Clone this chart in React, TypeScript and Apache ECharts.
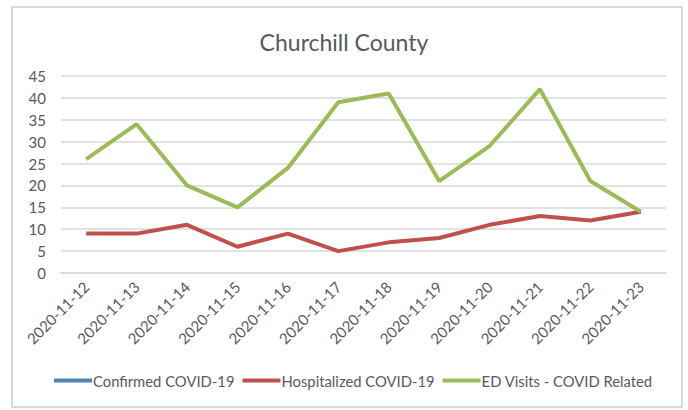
import React, { useEffect, useRef } from "react";
import * as echarts from "echarts";

const categories = [
  "2020-11-12", "2020-11-13", "2020-11-14", "2020-11-15", "2020-11-16", "2020-11-17",
  "2020-11-18", "2020-11-19", "2020-11-20", "2020-11-21", "2020-11-22", "2020-11-23",
];
const confirmed: (number | null)[] = [null, null, null, null, null, null, null, null, null, null, null, null];
const hospitalized = [9, 9, 11, 6, 9, 5, 7, 8, 11, 13, 12, 14];
const edVisits = [26, 34, 20, 15, 24, 39, 41, 21, 29, 42, 21, 14];

const FONT = "Lato";
const TXT = "#595959";

export default function App() {
  const ref = useRef<HTMLDivElement>(null);
  useEffect(() => {
    if (!ref.current) return;
    const chart = echarts.init(ref.current, undefined, { renderer: "svg" });
    chart.setOption({
      animation: false,
      backgroundColor: "#ffffff",
      title: {
        text: "Churchill County",
        left: "center",
        top: 25,
        textStyle: { fontFamily: FONT, fontSize: 23, fontWeight: "normal", color: TXT },
      },
      graphic: [
        {
          type: "rect",
          shape: { x: 12, y: 7, width: 670, height: 400 },
          style: { fill: "none", stroke: "#d9d9d9", lineWidth: 2 },
          silent: true,
        },
      ],
      legend: {
        bottom: 17,
        left: 49,
        icon: "rect",
        itemWidth: 38,
        itemHeight: 4,
        itemGap: 8,
        textStyle: { fontFamily: FONT, fontSize: 14.8, color: TXT, padding: [0, 0, 0, -4] },
        data: ["Confirmed COVID-19", "Hospitalized COVID-19", "ED Visits - COVID Related"],
      },
      grid: { left: 61, right: 22, top: 76, bottom: 137, containLabel: false },
      xAxis: {
        type: "category",
        data: categories,
        boundaryGap: true,
        axisLine: { show: true, lineStyle: { color: "#d9d9d9", width: 1.5 } },
        axisTick: { show: false },
        axisLabel: {
          rotate: 45,
          margin: 11,
          fontFamily: FONT,
          fontSize: 15,
          color: TXT,
          interval: 0,
        },
      },
      yAxis: {
        type: "value",
        min: 0,
        max: 45,
        interval: 5,
        axisLine: { show: false },
        axisTick: { show: false },
        axisLabel: { margin: 15, fontFamily: FONT, fontSize: 15, color: TXT },
        splitLine: { lineStyle: { color: "#d9d9d9", width: 1.5 } },
      },
      series: [
        {
          name: "Confirmed COVID-19",
          type: "line",
          data: confirmed,
          symbol: "none",
          lineStyle: { color: "#4F81BD", width: 4 },
          itemStyle: { color: "#4F81BD" },
        },
        {
          name: "Hospitalized COVID-19",
          type: "line",
          data: hospitalized,
          symbol: "none",
          lineStyle: { color: "#C0504D", width: 4 },
          itemStyle: { color: "#C0504D" },
        },
        {
          name: "ED Visits - COVID Related",
          type: "line",
          data: edVisits,
          symbol: "none",
          lineStyle: { color: "#9BBB59", width: 4 },
          itemStyle: { color: "#9BBB59" },
        },
      ],
    });
    return () => chart.dispose();
  }, []);
  return <div ref={ref} style={{ width: 688, height: 410, position: "absolute", left: 0, top: 0 }} />;
}
